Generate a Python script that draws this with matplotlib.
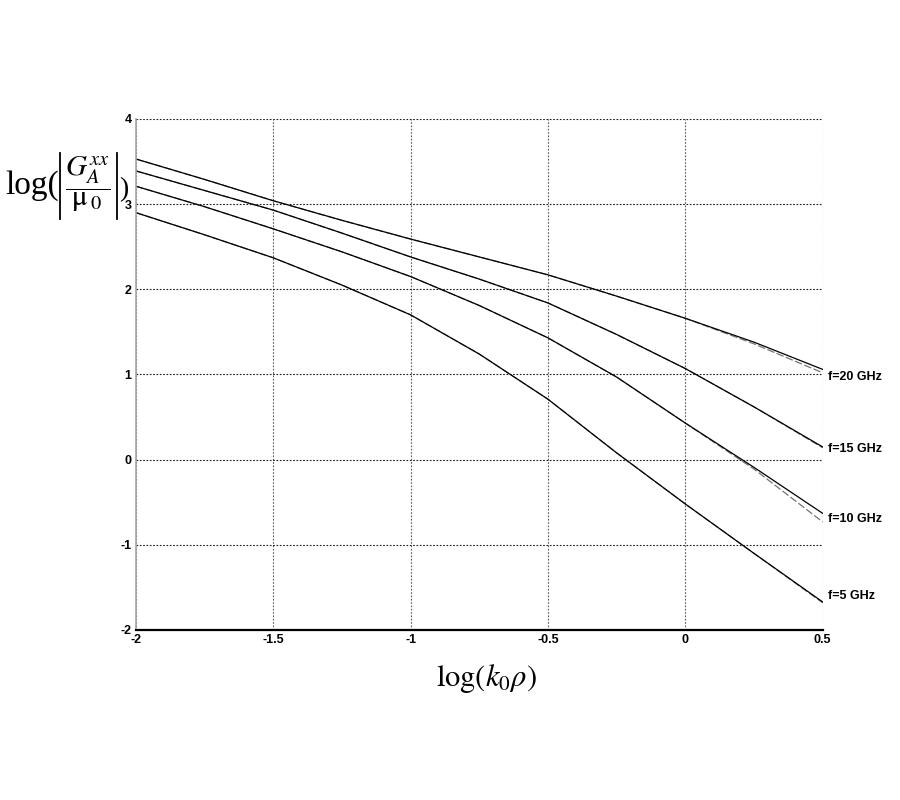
import numpy as np
import matplotlib
matplotlib.use("Agg")
import matplotlib.pyplot as plt
from matplotlib.lines import Line2D

plt.rcParams['mathtext.fontset'] = 'stix'
plt.rcParams['font.family'] = ['Liberation Sans', 'DejaVu Sans']

x = [-2.0, -1.75, -1.5, -1.25, -1.0, -0.75, -0.5, -0.25, 0.0, 0.25, 0.5]

f20_solid = [3.53, 3.29, 3.04, 2.81, 2.59, 2.38, 2.17, 1.92, 1.66, 1.38, 1.06]
f20_dash  = [3.53, 3.29, 3.04, 2.81, 2.59, 2.38, 2.17, 1.92, 1.66, 1.36, 1.02]
f15_solid = [3.39, 3.16, 2.93, 2.66, 2.38, 2.12, 1.84, 1.47, 1.07, 0.62, 0.15]
f15_dash  = [3.39, 3.16, 2.93, 2.66, 2.38, 2.12, 1.84, 1.47, 1.07, 0.62, 0.14]
f10_solid = [3.21, 2.97, 2.71, 2.44, 2.15, 1.81, 1.43, 0.97, 0.43, -0.09, -0.63]
f10_dash  = [3.21, 2.97, 2.71, 2.44, 2.15, 1.81, 1.43, 0.97, 0.43, -0.11, -0.73]
f5_solid  = [2.90, 2.64, 2.37, 2.05, 1.70, 1.24, 0.71, 0.08, -0.52, -1.10, -1.67]
f5_dash   = [2.90, 2.64, 2.37, 2.05, 1.70, 1.24, 0.71, 0.08, -0.52, -1.10, -1.68]

labels = ['f=20 GHz', 'f=15 GHz', 'f=10 GHz', 'f=5 GHz']
label_y = [0.97, 0.12, -0.70, -1.60]

xticks = [-2, -1.5, -1, -0.5, 0, 0.5]
xticklabels = ['-2', '-1.5', '-1', '-0.5', '0', '0.5']
yticks = [-2, -1, 0, 1, 2, 3, 4]
yticklabels = ['-2', '-1', '0', '1', '2', '3', '4']

W, H = 900, 800
fig = plt.figure(figsize=(9, 8), dpi=100)
ax = fig.add_axes([0.151, 0.2125, 0.763, 0.6388])

solids = [f20_solid, f15_solid, f10_solid, f5_solid]
dashes = [f20_dash, f15_dash, f10_dash, f5_dash]
for s, d in zip(solids, dashes):
    ax.plot(x, d, color='0.45', lw=0.9, ls=(0, (6, 2)))
    ax.plot(x, s, color='black', lw=0.9)

ax.set_xlim(-2, 0.5)
ax.set_ylim(-2, 4)
ax.set_xticks(xticks)
ax.set_xticklabels(xticklabels, fontweight='bold', fontsize=9)
ax.set_yticks(yticks)
ax.set_yticklabels(yticklabels, fontweight='bold', fontsize=9)
ax.tick_params(length=0, pad=3)

ax.xaxis.grid(True, color='0.35', ls=(0, (1.5, 1.5)), lw=0.8)
ax.yaxis.grid(True, color='0.1', ls=(0, (1.5, 1.5)), lw=0.8)
for sp in ['top', 'right']:
    ax.spines[sp].set_visible(False)
ax.spines['left'].set_color('0.65')
ax.spines['left'].set_linewidth(1.2)
ax.spines['bottom'].set_color('black')
ax.spines['bottom'].set_linewidth(1.6)

for lab, yy in zip(labels, label_y):
    ax.text(0.52, yy, lab, fontsize=9, fontweight='bold', va='center', ha='left',
            clip_on=False)

def fx(px):
    return px / W

def fy(py):
    return 1 - py / H

# y-axis label built from pieces
fig.text(fx(5), fy(194), 'log(', fontsize=24, family='Liberation Serif',
         ha='left', va='baseline')
fig.text(fx(88), fy(184), r'$\dfrac{G_A^{xx}}{\mathrm{\mu}_{\;0}}$',
         fontsize=21, ha='center', va='center')
for bx in (60, 117):
    fig.add_artist(Line2D([fx(bx), fx(bx)], [fy(153), fy(219)],
                          transform=fig.transFigure, color='black', lw=1.3))
fig.text(fx(119), fy(196), ')', fontsize=20, family='Liberation Serif',
         ha='left', va='baseline')

fig.text(0.541, 0.152, r'$\log(k_0\rho)$', fontsize=22, ha='center', va='center')

fig.savefig('out.png', dpi=100)
